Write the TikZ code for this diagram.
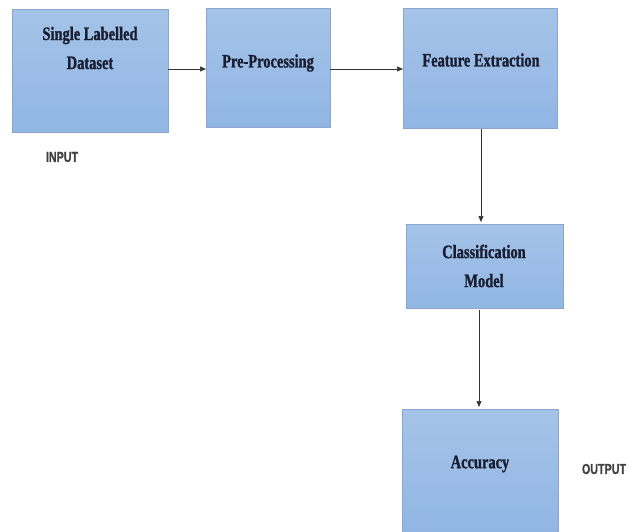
\documentclass[tikz,border=0pt]{standalone}
\usepackage{fontspec}
\setmainfont{Liberation Serif}
\newfontfamily\boxfont[FakeStretch=0.76,UprightFont={* Bold},FakeBold=1.2]{Liberation Serif}
\newfontfamily\labfont[FakeStretch=0.74,UprightFont={* Bold},FakeBold=1.2]{Liberation Sans}
\usetikzlibrary{arrows.meta}
\definecolor{boxtop}{RGB}{165,195,232}
\definecolor{boxbot}{RGB}{145,182,228}
\definecolor{boxline}{RGB}{140,165,205}
\definecolor{txt}{RGB}{25,30,50}
\tikzset{
  blk/.style={draw=boxline, line width=0.6pt, top color=boxtop, bottom color=boxbot, anchor=north west, inner sep=0pt},
  btxt/.style={font=\boxfont\fontsize{19}{29}\selectfont, text=txt, align=center},
  lab/.style={font=\labfont\fontsize{14.5}{16}\selectfont, text=black!75},
  conn/.style={draw=black!80, line width=0.7pt, -{Triangle[length=6pt,width=5pt]}}
}
\begin{document}
\begin{tikzpicture}[x=1pt,y=-1pt]
\useasboundingbox (0,0) rectangle (627,531);
\node[blk, minimum width=156pt, minimum height=123pt] (b1) at (12,9) {};
\node[blk, minimum width=124pt, minimum height=119pt] (b2) at (206,8) {};
\node[blk, minimum width=154pt, minimum height=120pt] (b3) at (403,8) {};
\node[blk, minimum width=157pt, minimum height=84pt] (b4) at (406,224) {};
\node[blk, minimum width=156pt, minimum height=124pt] (b5) at (402,409) {};
\node[btxt] (t1) at (90,48) {Single Labelled\\Dataset};
\node[btxt] (t2) at (268,63) {Pre-Processing};
\node[btxt] (t3) at (481,60) {Feature Extraction};
\node[btxt] (t4) at (484,266) {Classification\\Model};
\node[btxt] (t5) at (480,464) {Accuracy};
\node[lab] (in) at (62,157) {INPUT};
\node[lab] (out) at (604,469) {OUTPUT};
\coordinate (a1) at (168,69);
\coordinate (a2) at (206,69);
\coordinate (a3) at (330,69);
\coordinate (a4) at (403,69);
\draw[conn] (a1) -- (a2);
\draw[conn] (a3) -- (a4);
\draw[conn] (b3.south -| 481,0) -- (481,222);
\draw[conn] (479,310) -- (479,407);
\end{tikzpicture}
\end{document}
